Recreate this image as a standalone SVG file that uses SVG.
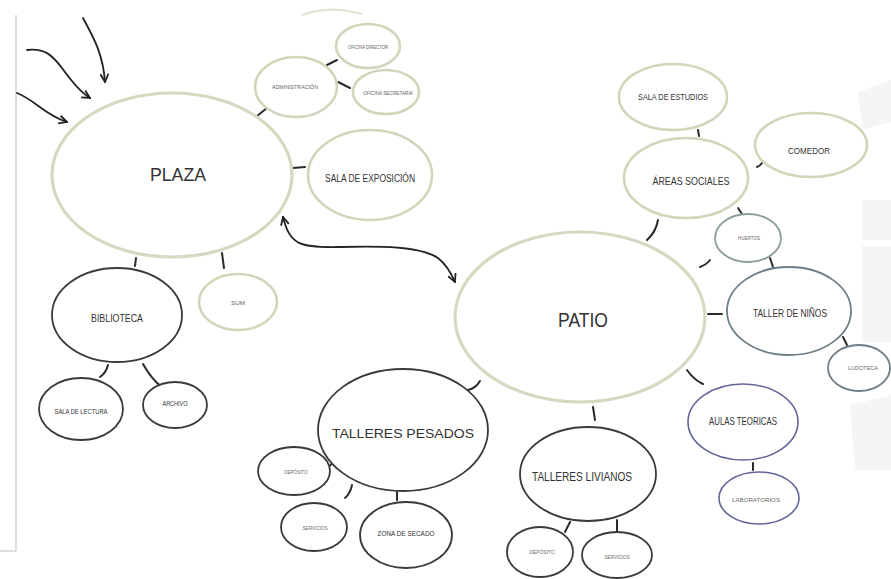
<svg xmlns="http://www.w3.org/2000/svg" width="891" height="579" viewBox="0 0 891 579">
<style>
  text { font-family: "Liberation Sans", Arial, sans-serif; text-anchor: middle; fill: #333; }
  .sm { fill: #666; }
  .pale { fill: #fff; stroke: #d6d8c2; stroke-width: 3.2; }
  .pale2 { fill: #fff; stroke: #d3d5bb; stroke-width: 2.6; }
  .dark { fill: #fff; stroke: #3a3a3a; stroke-width: 1.8; }
  .teal { fill: #fff; stroke: #8a9c9c; stroke-width: 1.8; }
  .slate { fill: #fff; stroke: #6e7e86; stroke-width: 1.8; }
  .violet { fill: #fff; stroke: #62659a; stroke-width: 1.6; }
  .con { fill: none; stroke: #2a2a2a; stroke-width: 2; stroke-linecap: round; }
  .arrow { fill: none; stroke: #222; stroke-width: 1.8; stroke-linecap: round; }
  .wm { fill: #f5f5f5; }
</style>
<defs>
  <marker id="head" viewBox="0 0 10 10" refX="9" refY="5" markerWidth="10" markerHeight="10" markerUnits="userSpaceOnUse" orient="auto-start-reverse">
    <path d="M1,1 L9,5 L1,9" fill="none" stroke="#222" stroke-width="1.8" stroke-linejoin="miter"/>
  </marker>
</defs>
<rect width="891" height="579" fill="#fff"/>
<g id="watermark">
  <polygon class="wm" points="858,92 891,80 891,122 862,130"/>
  <rect class="wm" x="862" y="200" width="29" height="40"/>
  <rect class="wm" x="862" y="246" width="29" height="96"/>
  <polygon class="wm" points="850,405 891,395 891,470 855,470"/>
</g>
<g id="border">
  <line x1="16" y1="15" x2="16" y2="551" stroke="#c8c8c8" stroke-width="1.2"/>
  <line x1="0" y1="551" x2="16" y2="551" stroke="#c8c8c8" stroke-width="1.2"/>
</g>
<path d="M302,15 Q330,5 362,14" fill="none" stroke="#e0e2cf" stroke-width="2"/>

<g id="connectors">
  <path class="arrow" d="M83,18 C95,40 103,55 105,82" marker-end="url(#head)"/>
  <path class="arrow" d="M27,50 C45,48 52,55 62,68 C72,82 80,92 90,98" marker-end="url(#head)"/>
  <path class="arrow" d="M17,93 C35,100 45,115 67,122" marker-end="url(#head)"/>
  <path class="arrow" d="M283,217 C290,245 300,248 340,247 C380,246 420,246 438,258 C448,266 452,275 455,282" marker-start="url(#head)" marker-end="url(#head)"/>
  <line class="con" x1="257" y1="116" x2="267" y2="108"/>
  <line class="con" x1="327" y1="65" x2="337" y2="60"/>
  <line class="con" x1="338" y1="82" x2="350" y2="88"/>
  <line class="con" x1="293" y1="168" x2="305" y2="167"/>
  <line class="con" x1="136" y1="258" x2="135" y2="266"/>
  <line class="con" x1="222" y1="253" x2="224" y2="268"/>
  <path class="con" d="M108,365 Q106,373 100,377"/>
  <path class="con" d="M143,364 Q152,380 162,387"/>
  <path class="con" d="M658,220 Q656,232 647,240"/>
  <path class="con" d="M710,260 Q706,265 700,267"/>
  <line class="con" x1="708" y1="314" x2="722" y2="314"/>
  <path class="con" d="M687,370 Q694,380 703,384"/>
  <line class="con" x1="593" y1="407" x2="595" y2="420"/>
  <path class="con" d="M480,381 Q476,388 468,390"/>
  <line class="con" x1="698" y1="130" x2="699" y2="136"/>
  <path class="con" d="M757,167 Q760,166 762,163"/>
  <line class="con" x1="738" y1="208" x2="742" y2="214"/>
  <line class="con" x1="770" y1="258" x2="773" y2="267"/>
  <line class="con" x1="843" y1="337" x2="847" y2="345"/>
  <line class="con" x1="753" y1="463" x2="753" y2="470"/>
  <line class="con" x1="328" y1="467" x2="333" y2="463"/>
  <path class="con" d="M352,485 Q350,494 345,498"/>
  <line class="con" x1="397" y1="492" x2="397" y2="500"/>
  <line class="con" x1="570" y1="522" x2="565" y2="532"/>
  <line class="con" x1="617" y1="520" x2="617" y2="533"/>
</g>

<g id="plaza">
  <ellipse class="pale" cx="172" cy="175" rx="120" ry="82"/>
  <text x="178" y="181" font-size="19" textLength="56" lengthAdjust="spacingAndGlyphs">PLAZA</text>
</g>
<g id="administracion">
  <ellipse class="pale2" cx="296" cy="87" rx="41" ry="30"/>
  <text class="sm" x="295" y="89" font-size="5.5" textLength="46" lengthAdjust="spacingAndGlyphs">ADMINISTRACIÓN</text>
</g>
<g id="oficina-director">
  <ellipse class="pale2" cx="368" cy="46" rx="32" ry="22"/>
  <text class="sm" x="368" y="49" font-size="5.5" textLength="40" lengthAdjust="spacingAndGlyphs">OFICINA DIRECTOR</text>
</g>
<g id="oficina-secretaria">
  <ellipse class="pale2" cx="386" cy="92" rx="33" ry="22"/>
  <text class="sm" x="388" y="95" font-size="5.5" textLength="50" lengthAdjust="spacingAndGlyphs">OFICINA SECRETARIA</text>
</g>
<g id="sala-exposicion">
  <ellipse class="pale2" cx="370" cy="175" rx="62" ry="45"/>
  <text x="370" y="182" font-size="10" textLength="90" lengthAdjust="spacingAndGlyphs">SALA DE EXPOSICIÓN</text>
</g>
<g id="sum">
  <ellipse class="pale2" cx="238" cy="302" rx="39" ry="28"/>
  <text class="sm" x="238" y="305" font-size="6" textLength="14" lengthAdjust="spacingAndGlyphs">SUM</text>
</g>
<g id="biblioteca">
  <ellipse class="dark" cx="117" cy="315" rx="65" ry="47"/>
  <text x="117" y="322" font-size="10.5" textLength="52" lengthAdjust="spacingAndGlyphs">BIBLIOTECA</text>
</g>
<g id="sala-lectura">
  <ellipse class="dark" cx="81" cy="409" rx="42" ry="31"/>
  <text x="81" y="414" font-size="6.5" textLength="53" lengthAdjust="spacingAndGlyphs">SALA DE LECTURA</text>
</g>
<g id="archivo">
  <ellipse class="dark" cx="175" cy="405" rx="32" ry="23"/>
  <text x="175" y="406" font-size="6.5" textLength="25" lengthAdjust="spacingAndGlyphs">ARCHIVO</text>
</g>

<g id="patio">
  <ellipse class="pale" cx="580" cy="317" rx="125" ry="85"/>
  <text x="583" y="327" font-size="20" textLength="50" lengthAdjust="spacingAndGlyphs">PATIO</text>
</g>
<g id="sala-estudios">
  <ellipse class="pale2" cx="673" cy="97" rx="54" ry="33"/>
  <text x="673" y="100" font-size="9.5" textLength="70" lengthAdjust="spacingAndGlyphs">SALA DE ESTUDIOS</text>
</g>
<g id="areas-sociales">
  <ellipse class="pale2" cx="686" cy="178" rx="62" ry="40"/>
  <text x="691" y="185" font-size="11" textLength="77" lengthAdjust="spacingAndGlyphs">ÁREAS SOCIALES</text>
</g>
<g id="comedor">
  <ellipse class="pale2" cx="811" cy="145" rx="56" ry="32"/>
  <text x="809" y="154" font-size="9" textLength="42" lengthAdjust="spacingAndGlyphs">COMEDOR</text>
</g>
<g id="huertos">
  <ellipse class="teal" cx="748" cy="238" rx="33" ry="24"/>
  <text class="sm" x="749" y="240" font-size="5" textLength="22" lengthAdjust="spacingAndGlyphs">HUERTOS</text>
</g>
<g id="taller-ninos">
  <ellipse class="slate" cx="789" cy="311" rx="62" ry="44"/>
  <text x="790" y="317" font-size="11" textLength="74" lengthAdjust="spacingAndGlyphs">TALLER DE NIÑOS</text>
</g>
<g id="ludoteca">
  <ellipse class="slate" cx="859" cy="368" rx="31" ry="23"/>
  <text class="sm" x="863" y="370" font-size="5" textLength="30" lengthAdjust="spacingAndGlyphs">LUDOTECA</text>
</g>
<g id="aulas-teoricas">
  <ellipse class="violet" cx="743" cy="422" rx="55" ry="38"/>
  <text x="743" y="425" font-size="10.5" textLength="68" lengthAdjust="spacingAndGlyphs">AULAS TEORICAS</text>
</g>
<g id="laboratorios">
  <ellipse class="violet" cx="759" cy="498" rx="40" ry="26"/>
  <text class="sm" x="756" y="502" font-size="6" textLength="48" lengthAdjust="spacingAndGlyphs">LABORATORIOS</text>
</g>

<g id="talleres-pesados">
  <ellipse class="dark" cx="403" cy="430" rx="85" ry="61"/>
  <text x="403" y="438" font-size="13" textLength="142" lengthAdjust="spacingAndGlyphs">TALLERES PESADOS</text>
</g>
<g id="deposito-pesados">
  <ellipse class="dark" cx="294" cy="471" rx="36" ry="24"/>
  <text class="sm" x="296" y="474" font-size="5.5" textLength="23" lengthAdjust="spacingAndGlyphs">DEPÓSITO</text>
</g>
<g id="servicios-pesados">
  <ellipse class="dark" cx="314" cy="527" rx="33" ry="24"/>
  <text class="sm" x="315" y="530" font-size="5.5" textLength="25" lengthAdjust="spacingAndGlyphs">SERVICIOS</text>
</g>
<g id="zona-secado">
  <ellipse class="dark" cx="406" cy="535" rx="46" ry="33"/>
  <text x="406" y="536" font-size="8" textLength="57" lengthAdjust="spacingAndGlyphs">ZONA DE SECADO</text>
</g>
<g id="talleres-livianos">
  <ellipse class="dark" cx="588" cy="474" rx="68" ry="47"/>
  <text x="582" y="481" font-size="12" textLength="100" lengthAdjust="spacingAndGlyphs">TALLERES LIVIANOS</text>
</g>
<g id="deposito-livianos">
  <ellipse class="dark" cx="540" cy="552" rx="33" ry="25"/>
  <text class="sm" x="542" y="554" font-size="5.5" textLength="25" lengthAdjust="spacingAndGlyphs">DEPÓSITO</text>
</g>
<g id="servicios-livianos">
  <ellipse class="dark" cx="617" cy="555" rx="35" ry="23"/>
  <text class="sm" x="617" y="559" font-size="5.5" textLength="25" lengthAdjust="spacingAndGlyphs">SERVICIOS</text>
</g>
</svg>
